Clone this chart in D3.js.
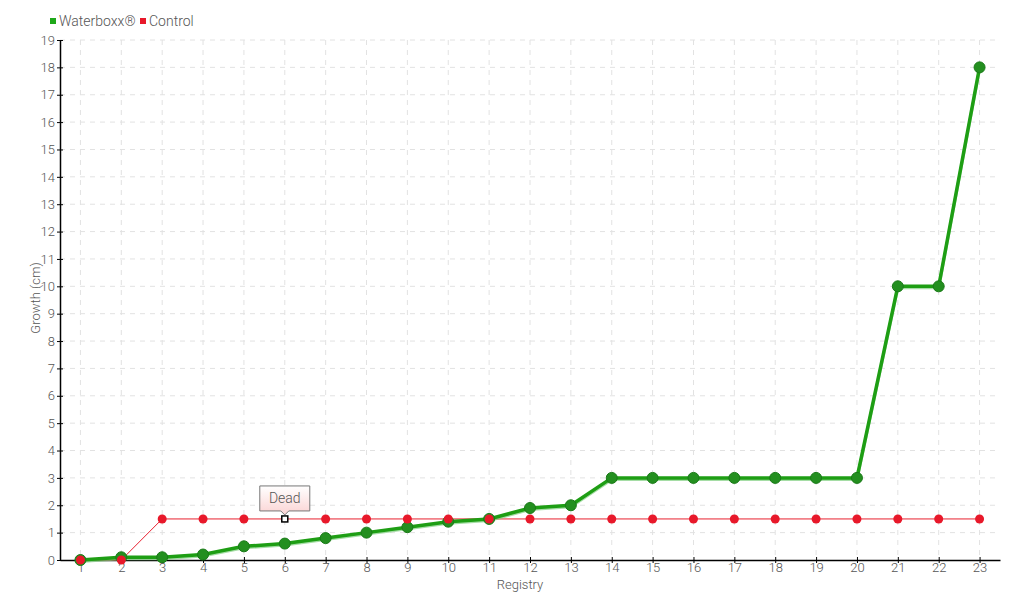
<!DOCTYPE html>
<meta charset="utf-8">
<style>
  body { margin: 0; background: #fff; }
  text { font-family: Roboto, "Liberation Sans Narrow", sans-serif; font-weight: 300; fill: #555; }
</style>
<body>
<script src="https://d3js.org/d3.v7.min.js"></script>
<script>
  var registry = d3.range(1, 24);
  var waterboxx = [0, 0.1, 0.1, 0.2, 0.5, 0.6, 0.8, 1.0, 1.2, 1.4, 1.5, 1.9, 2.0, 3, 3, 3, 3, 3, 3, 3, 10, 10, 18];
  var control = [0, 0, 1.5, 1.5, 1.5, 1.5, 1.5, 1.5, 1.5, 1.5, 1.5, 1.5, 1.5, 1.5, 1.5, 1.5, 1.5, 1.5, 1.5, 1.5, 1.5, 1.5, 1.5];
  var yTicks = d3.range(0, 20);
  var deadIndex = 5; // registry 6, control

  var svg = d3.select("body").append("svg")
      .attr("width", 1020)
      .attr("height", 600);

  var margin = {top: 40, right: 20, bottom: 40, left: 60},
      width = 1020 - margin.left - margin.right,
      height = 600 - margin.top - margin.bottom;

  var g = svg.append("g").attr("transform", "translate(" + margin.left + "," + margin.top + ")");

  var x = d3.scalePoint().domain(registry).range([0, width]).padding(0.5);
  var y = d3.scaleLinear().domain([0, 19]).range([height, 0]);

  // grid
  g.append("g").selectAll("line")
      .data(yTicks.slice(1))
      .enter().append("line")
      .attr("x1", 0).attr("x2", width)
      .attr("y1", function(d) { return y(d); }).attr("y2", function(d) { return y(d); })
      .attr("stroke", "#e2e2e2").attr("stroke-dasharray", "5,5");
  g.append("g").selectAll("line")
      .data(registry)
      .enter().append("line")
      .attr("x1", function(d) { return x(d); }).attr("x2", function(d) { return x(d); })
      .attr("y1", 0).attr("y2", height)
      .attr("stroke", "#e2e2e2").attr("stroke-dasharray", "5,5");

  // axes
  var xAxis = g.append("g")
      .attr("transform", "translate(0," + height + ")")
      .call(d3.axisBottom(x).tickSize(4).tickSizeOuter(0));
  var yAxis = g.append("g")
      .call(d3.axisLeft(y).tickValues(yTicks).tickSize(4).tickSizeOuter(0));
  [xAxis, yAxis].forEach(function(a) {
    a.select(".domain").attr("stroke", "#000").attr("stroke-width", 1.5);
    a.selectAll(".tick line").attr("stroke", "#000");
    a.selectAll("text").attr("font-size", 13).attr("fill", "#555")
        .style("font-family", "Roboto, 'Liberation Sans Narrow', sans-serif")
        .style("font-weight", 300);
  });
  yAxis.selectAll(".tick line").attr("x2", 3).attr("x1", -3);
  yAxis.selectAll("text").attr("x", -5);
  xAxis.selectAll(".tick line").attr("y1", -3).attr("y2", 3);
  xAxis.selectAll("text").attr("y", 3);

  g.append("text")
      .attr("x", width / 2 - 10).attr("y", height + 29)
      .attr("text-anchor", "middle").attr("font-size", 13)
      .text("Registry");
  g.append("text")
      .attr("transform", "translate(-20," + (height / 2 - 2) + ") rotate(-90)")
      .attr("text-anchor", "middle").attr("font-size", 13)
      .text("Growth (cm)");

  var line = d3.line()
      .x(function(d, i) { return x(registry[i]); })
      .y(function(d) { return y(d); });

  // control series
  g.append("path").datum(control)
      .attr("d", line).attr("fill", "none")
      .attr("stroke", "#e8202f").attr("stroke-width", 1);

  // waterboxx series (with soft shadow band)
  g.append("path").datum(waterboxx)
      .attr("d", line).attr("fill", "none")
      .attr("transform", "translate(0,1.5)")
      .attr("stroke", "#7fcf7f").attr("stroke-width", 3).attr("opacity", 0.7);
  g.append("path").datum(waterboxx)
      .attr("d", line).attr("fill", "none")
      .attr("stroke", "#1e9e14").attr("stroke-width", 3.5);

  g.append("g").selectAll("circle")
      .data(waterboxx)
      .enter().append("circle")
      .attr("cx", function(d, i) { return x(registry[i]); })
      .attr("cy", function(d) { return y(d); })
      .attr("r", 5.5)
      .attr("fill", "#238f1f").attr("stroke", "#1a7a18").attr("stroke-width", 1);

  var ctrlPts = control.map(function(v, i) { return {r: registry[i], v: v, i: i}; })
      .filter(function(d) { return d.i !== deadIndex; });
  g.append("g").selectAll("circle")
      .data(ctrlPts)
      .enter().append("circle")
      .attr("cx", function(d) { return x(d.r); })
      .attr("cy", function(d) { return y(d.v); })
      .attr("r", 4.5)
      .attr("fill", "#e8182a");

  // dead marker
  var dx = x(registry[deadIndex]), dy = y(control[deadIndex]);
  g.append("rect")
      .attr("x", dx - 3).attr("y", dy - 3).attr("width", 6).attr("height", 6)
      .attr("fill", "#fff").attr("stroke", "#000").attr("stroke-width", 1.5);

  var defs = svg.append("defs");
  var grad = defs.append("linearGradient").attr("id", "tipGrad")
      .attr("x1", 0).attr("y1", 0).attr("x2", 0).attr("y2", 1);
  grad.append("stop").attr("offset", "0%").attr("stop-color", "#ffffff");
  grad.append("stop").attr("offset", "100%").attr("stop-color", "#fbd3d3");

  var tw = 50, th = 25, tb = dy - 8;
  g.append("path")
      .attr("d", "M" + (dx - tw / 2) + "," + (tb - th) +
          "H" + (dx + tw / 2) + "V" + tb + "H" + (dx + 4) +
          "L" + dx + "," + (tb + 4) + "L" + (dx - 4) + "," + tb +
          "H" + (dx - tw / 2) + "Z")
      .attr("fill", "url(#tipGrad)").attr("stroke", "#777").attr("stroke-width", 1);
  g.append("text")
      .attr("x", dx).attr("y", tb - 8)
      .attr("text-anchor", "middle").attr("font-size", 14)
      .text("Dead");

  // legend
  var legend = svg.append("g").attr("transform", "translate(50,22)");
  var items = [{name: "Waterboxx®", color: "#1ea81a", x: 0}, {name: "Control", color: "#e8182a", x: 90}];
  legend.selectAll("g").data(items).enter().append("g")
      .attr("transform", function(d) { return "translate(" + d.x + ",0)"; })
      .each(function(d) {
        d3.select(this).append("rect").attr("x", 0).attr("y", -4).attr("width", 6).attr("height", 6).attr("fill", d.color);
        d3.select(this).append("text").attr("x", 9).attr("y", 4).attr("font-size", 14).text(d.name);
      });
</script>
</body>
